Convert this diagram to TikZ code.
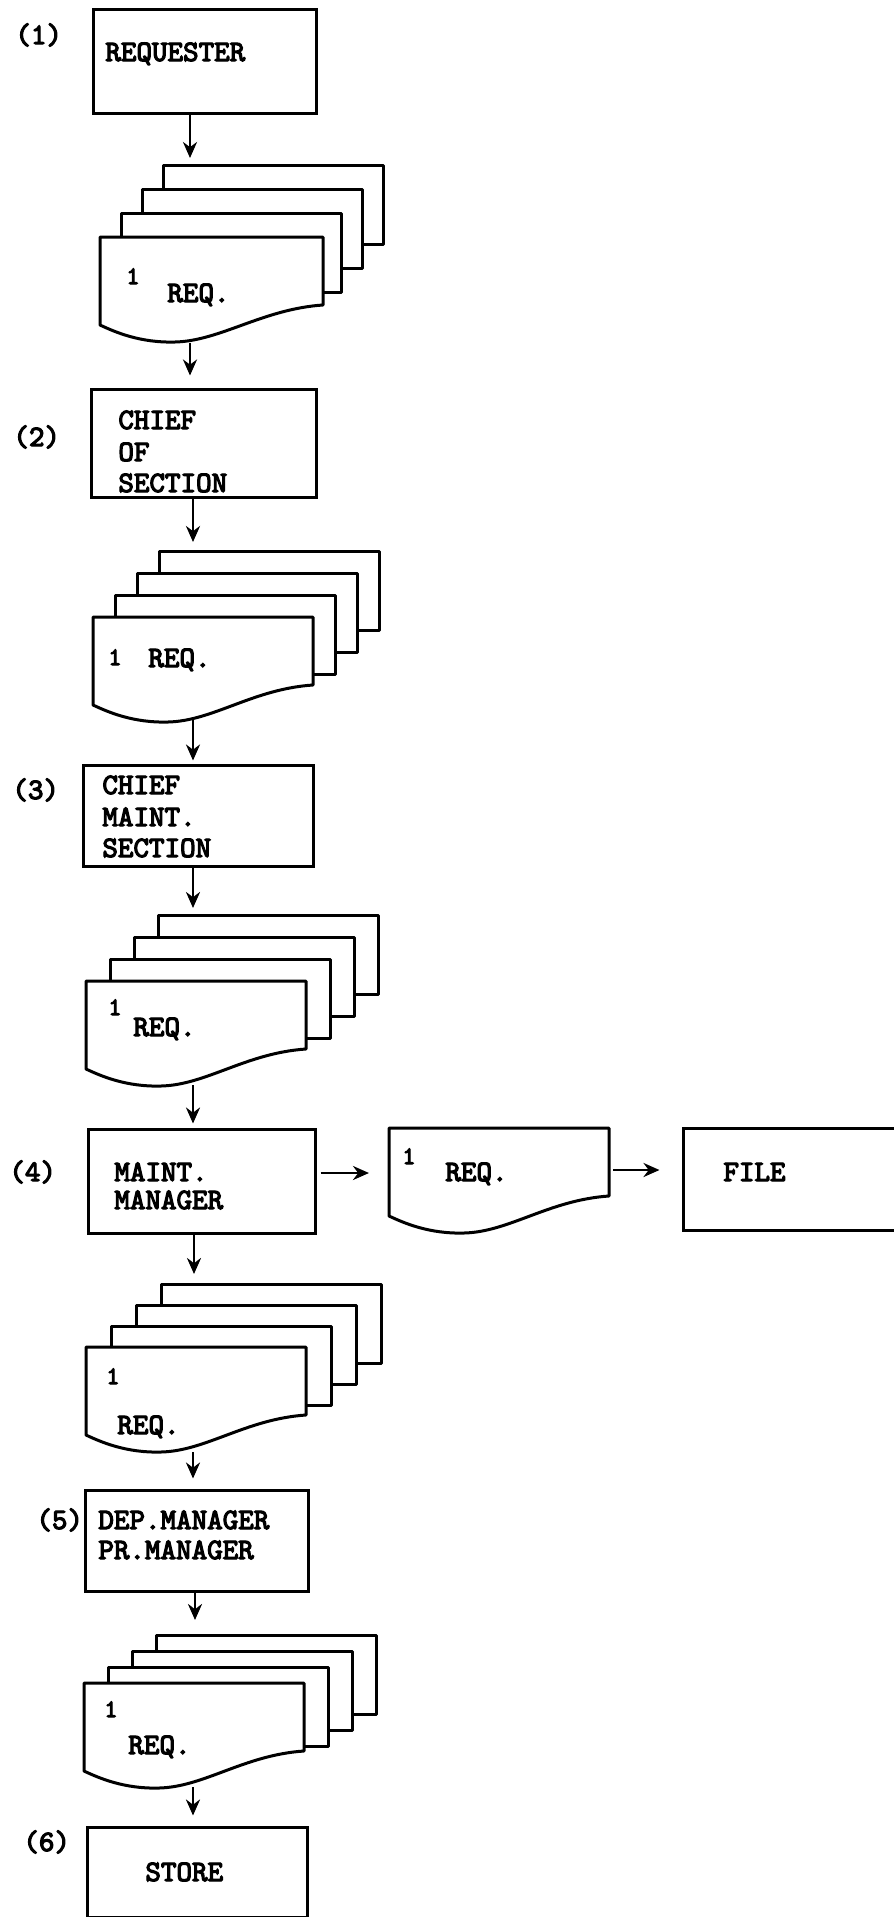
\documentclass[tikz,border=0pt]{standalone}
\usepackage{fontspec}
\newfontfamily\tw{lmmono10-regular}[Extension=.otf, FakeBold=4]
\usetikzlibrary{arrows.meta,fit}
\newcommand\docshape[3]{%
  \filldraw[page] (#1,{#2+88}) -- (#1,#2) -- (#3,#2) -- (#3,{#2+68})
    .. controls ({#3-60},{#2+72}) and ({#1+120},{#2+104}) .. ({#1+75},{#2+105})
    .. controls ({#1+40},{#2+106}) and ({#1+15},{#2+95}) .. (#1,{#2+88}) -- cycle;}
\newcommand\docstack[5]{%
  \foreach \k in {3,2,1}{%
    \filldraw[page] ({#1+\k*#4},{#2-\k*#5}) rectangle ++(220,79);}
  \docshape{#1}{#2}{#3}}
\begin{document}
\begin{tikzpicture}[x=0.5pt,y=-0.5pt,
  box/.style={draw, line width=1.5pt, inner sep=0pt},
  page/.style={draw, fill=white, line width=1.5pt, line join=round},
  txt/.style={font=\tw\fontsize{14.8}{14.8}\selectfont, inner sep=0pt, anchor=base west},
  one/.style={txt, font=\tw\fontsize{12.5}{12.5}\selectfont},
  arr/.style={-{Stealth[length=8pt,width=7pt]}, line width=1.4pt}]
\useasboundingbox[fill=white] (0,0) rectangle (894,1917);

% (1)
\node[txt] (l1) at (15,44) {(1)};
\node[box, fit={(93,9) (316,113)}] (req) {};
\node[txt] (t1) at (105,61) {REQUESTER};
\docstack{100}{237}{323}{21}{24}
\node[one] (s1one) at (126,284) {1};
\node[txt] (s1req) at (167,302) {REQ.};
\coordinate (s1t) at (190,158);
\coordinate (s1b) at (190,343);

% (2)
\node[txt] (l2) at (13,446) {(2)};
\node[box, fit={(91,389) (316,497)}] (cos) {};
\node[txt] (t2a) at (118,429) {CHIEF};
\node[txt] (t2b) at (118,461) {OF};
\node[txt] (t2c) at (118,492) {SECTION};
\docstack{93}{617}{313}{22}{22}
\node[one] (s2one) at (108,665) {1};
\node[txt] (s2req) at (148,667) {REQ.};
\coordinate (s2t) at (193,542);
\coordinate (s2b) at (193,720);

% (3)
\node[txt] (l3) at (12,799) {(3)};
\node[box, fit={(83,765) (313,866)}] (cms) {};
\node[txt] (t3a) at (102,794) {CHIEF};
\node[txt] (t3b) at (102,826) {MAINT.};
\node[txt] (t3c) at (102,857) {SECTION};
\docstack{86}{981}{306}{24}{22}
\node[one] (s3one) at (108,1015) {1};
\node[txt] (s3req) at (133,1036) {REQ.};
\coordinate (s3t) at (193,908);
\coordinate (s3b) at (193,1085);

% (4)
\node[txt] (l4) at (9,1181) {(4)};
\node[box, fit={(88,1129) (315,1233)}] (mm) {};
\node[txt] (t4a) at (114,1181) {MAINT.};
\node[txt] (t4b) at (114,1209) {MANAGER};
\docshape{389}{1128}{609}
\node[one] (d4one) at (402,1164) {1};
\node[txt] (d4req) at (445,1181) {REQ.};
\coordinate (d4in) at (369,1173);
\coordinate (d4out) at (613,1170);
\node[box, fit={(683,1128) (904,1230)}] (file) {};
\node[txt] (tf) at (723,1181) {FILE};
\docstack{86}{1347}{306}{25}{21}
\node[one] (s4one) at (106,1384) {1};
\node[txt] (s4req) at (117,1434) {REQ.};
\coordinate (s4t) at (194,1274);
\coordinate (s4b) at (193,1452);

% (5)
\node[txt] (l5) at (36,1529) {(5)};
\node[box, fit={(85,1490) (308,1591)}] (dm) {};
\node[txt] (t5a) at (98,1529) {DEP.MANAGER};
\node[txt] (t5b) at (98,1559) {PR.MANAGER};
\docstack{84}{1683}{304}{24}{16}
\node[one] (s5one) at (104,1717) {1};
\node[txt] (s5req) at (128,1754) {REQ.};
\coordinate (s5t) at (195,1620);
\coordinate (s5b) at (193,1787);

% (6)
\node[txt] (l6) at (23,1851) {(6)};
\node[box, fit={(87,1827) (307,1917)}] (store) {};
\node[txt] (t6) at (145,1881) {STORE};

% connectors
\draw[arr] (s1t |- req.south) -- (s1t);
\draw[arr, shorten >=6pt] (s1b) -- (s1b |- cos.north);
\draw[arr] (s2t |- cos.south) -- (s2t);
\draw[arr, shorten >=1.5pt] (s2b) -- (s2b |- cms.north);
\draw[arr] (s3t |- cms.south) -- (s3t);
\draw[arr, shorten >=2pt] (s3b) -- (s3b |- mm.north);
\draw[arr] (s4t |- mm.south) -- (s4t);
\draw[arr, shorten >=5pt] (s4b) -- (s4b |- dm.north);
\draw[arr] (s5t |- dm.south) -- (s5t);
\draw[arr, shorten >=5pt] (s5b) -- (s5b |- store.north);
\draw[arr, shorten <=2pt] (mm.east |- d4in) -- (d4in);
\draw[arr, shorten >=11pt] (d4out) -- (d4out -| file.west);
\end{tikzpicture}
\end{document}
